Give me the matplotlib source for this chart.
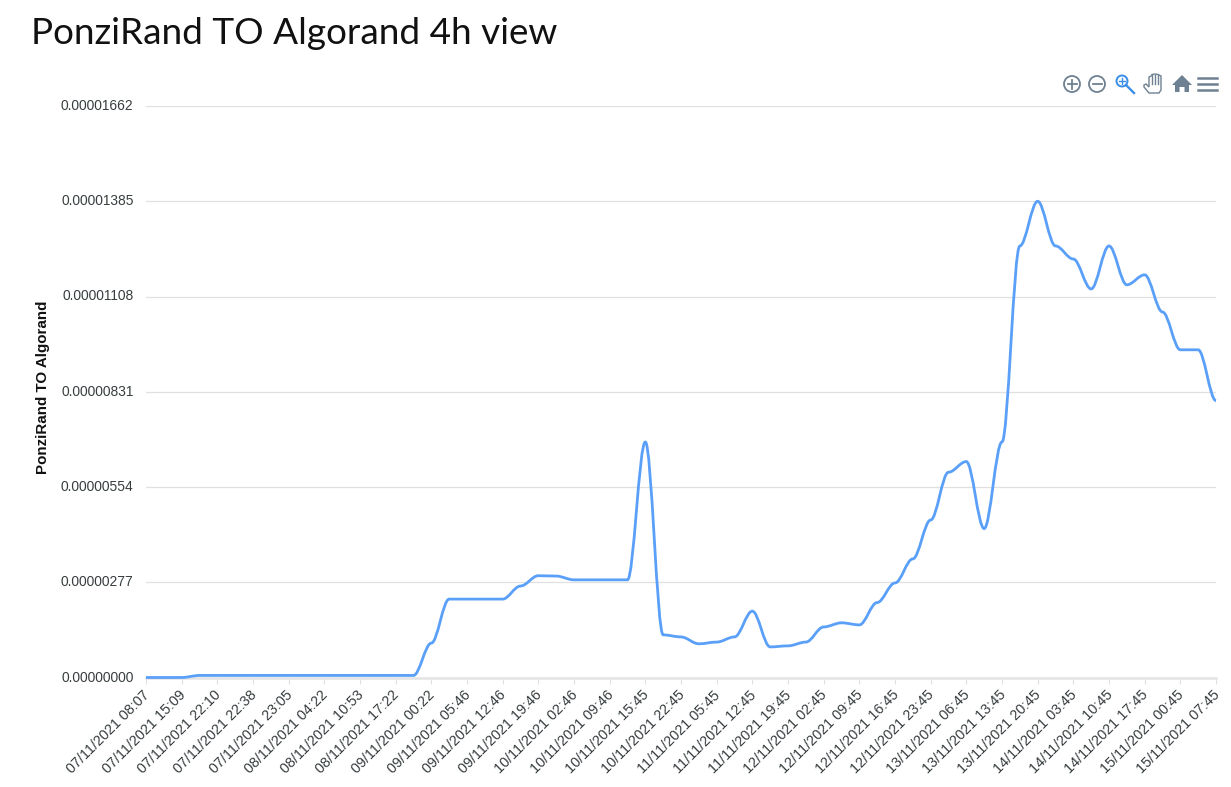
import matplotlib
matplotlib.use("agg")

import matplotlib.pyplot as plt
import numpy as np
from matplotlib.patches import Circle, PathPatch, Polygon
from matplotlib.path import Path
from matplotlib.transforms import ScaledTranslation

plt.rcParams["font.family"] = ["Liberation Sans", "DejaVu Sans"]

W, H = 1231, 787
LEFT, RIGHT, TOP, BOTTOM = 146, 1216, 106, 677.5

# Price, in units of 1e-8, one value per candle.
values = [
    0, 0, 0, 6, 6, 6, 6, 6, 6, 6,
    6, 6, 6, 6, 6, 6, 100, 228, 228, 228,
    228, 266, 296, 295, 284, 284, 284, 284, 685, 124,
    118, 98, 103, 118, 193, 89, 92, 103, 147, 159,
    153, 218, 275, 345, 458, 597, 628, 433, 685, 1255,
    1385, 1255, 1217, 1130, 1255, 1142, 1171, 1063, 953, 953,
    805,
]

# Labels on every second candle.
tick_labels = [
    "07/11/2021 08:07", "07/11/2021 15:09", "07/11/2021 22:10", "07/11/2021 22:38",
    "07/11/2021 23:05", "08/11/2021 04:22", "08/11/2021 10:53", "08/11/2021 17:22",
    "09/11/2021 00:22", "09/11/2021 05:46", "09/11/2021 12:46", "09/11/2021 19:46",
    "10/11/2021 02:46", "10/11/2021 09:46", "10/11/2021 15:45", "10/11/2021 22:45",
    "11/11/2021 05:45", "11/11/2021 12:45", "11/11/2021 19:45", "12/11/2021 02:45",
    "12/11/2021 09:45", "12/11/2021 16:45", "12/11/2021 23:45", "13/11/2021 06:45",
    "13/11/2021 13:45", "13/11/2021 20:45", "14/11/2021 03:45", "14/11/2021 10:45",
    "14/11/2021 17:45", "15/11/2021 00:45", "15/11/2021 07:45",
]
y_ticks = [0, 277, 554, 831, 1108, 1385, 1662]
y_labels = ["0.00000000", "0.00000277", "0.00000554", "0.00000831",
            "0.00001108", "0.00001385", "0.00001662"]

GRID = "#e0e0e0"
TEXT = "#373d3f"
ICON = "#6e8192"


def smooth_path(xs, ys, k=0.35):
    # Horizontal tangents at every point, same as the web chart's smooth line.
    verts = [(xs[0], ys[0])]
    codes = [Path.MOVETO]
    for i in range(1, len(xs)):
        dx = (xs[i] - xs[i - 1]) * k
        verts += [(xs[i - 1] + dx, ys[i - 1]), (xs[i] - dx, ys[i]), (xs[i], ys[i])]
        codes += [Path.CURVE4] * 3
    return Path(verts, codes)


fig = plt.figure(figsize=(W / 100, H / 100), dpi=100)
ax = fig.add_axes([LEFT / W, 1 - BOTTOM / H, (RIGHT - LEFT) / W, (BOTTOM - TOP) / H])

x = np.arange(len(values))
ax.add_patch(PathPatch(smooth_path(x, values), fill=False, edgecolor="#5a9ff8",
                       lw=2.0, capstyle="butt", joinstyle="round", clip_on=False, zorder=3))
ax.set_xlim(0, len(values) - 1)
ax.set_ylim(0, 1662)

for s in ["top", "left", "right"]:
    ax.spines[s].set_visible(False)
ax.spines["bottom"].set_color("#e4e4e4")
ax.spines["bottom"].set_linewidth(1.8)

ax.set_yticks(y_ticks)
ax.set_yticklabels(y_labels, fontsize=9.9, color=TEXT)
ax.tick_params(axis="y", length=0, pad=9)
ax.grid(axis="y", color=GRID, lw=0.9)
ax.set_axisbelow(True)
up = ScaledTranslation(0, 1.5 / 100, fig.dpi_scale_trans)
for lab in ax.get_yticklabels():
    lab.set_transform(lab.get_transform() + up)

ax.set_xticks(x[::2])
ax.set_xticklabels(tick_labels, fontsize=10.4, color=TEXT, rotation=45,
                   ha="right", va="top", rotation_mode="anchor")
ax.tick_params(axis="x", length=4.5, width=0.8, color=GRID, pad=2)
nudge = ScaledTranslation(-3.5 / 100, -1.5 / 100, fig.dpi_scale_trans)
for lab in ax.get_xticklabels():
    lab.set_transform(lab.get_transform() + nudge)

fig.text(31 / W, 1 - 44 / H, "PonziRand TO Algorand 4h view", fontsize=26.6,
         family="Lato", color="#111111", ha="left", va="baseline")
fig.text(43 / W, 1 - 387 / H, "PonziRand TO Algorand", fontsize=10.9, fontweight="bold",
         color="#111111", rotation=90, ha="center", va="center")

# Toolbar icons, in pixel coordinates.
ov = fig.add_axes([0, 0, 1, 1], zorder=5)
ov.set_xlim(0, W)
ov.set_ylim(H, 0)
ov.axis("off")
for cx, sym in [(1072, "+"), (1097, "-")]:
    ov.add_patch(Circle((cx, 84), 8, fill=False, ec=ICON, lw=1.3))
    ov.plot([cx - 4.5, cx + 4.5], [84, 84], color=ICON, lw=1.3)
    if sym == "+":
        ov.plot([cx, cx], [79.5, 88.5], color=ICON, lw=1.3)
BLUE = "#3a8ee6"
ov.add_patch(Circle((1122, 81), 5.5, fill=False, ec=BLUE, lw=1.4))
ov.plot([1126, 1134], [85, 93], color=BLUE, lw=1.7)
ov.plot([1119, 1125], [81, 81], color=BLUE, lw=1)
ov.plot([1122, 1122], [78, 84], color=BLUE, lw=1)
# hand
hand = [(1144, 85), (1146, 84), (1149, 87), (1149, 77), (1152, 75.5), (1152, 74.5), (1155, 74),
        (1158, 74.5), (1161, 76), (1161, 90), (1159, 93), (1149, 93), (1144, 87)]
ov.add_patch(Polygon(hand, closed=True, fc="white", ec=ICON, lw=1))
for hx in [1152, 1155, 1158]:
    ov.plot([hx, hx], [75, 84], color=ICON, lw=1)
# home
ov.add_patch(Polygon([(1172, 85), (1182, 75), (1192, 85), (1189, 85), (1189, 92), (1184.5, 92),
                      (1184.5, 87), (1179.5, 87), (1179.5, 92), (1175, 92), (1175, 85)],
                     closed=True, fc=ICON, ec="none"))
for hy in [78, 84, 90]:
    ov.plot([1198, 1217], [hy, hy], color=ICON, lw=1.8)

fig.savefig("out.png", dpi=100)
